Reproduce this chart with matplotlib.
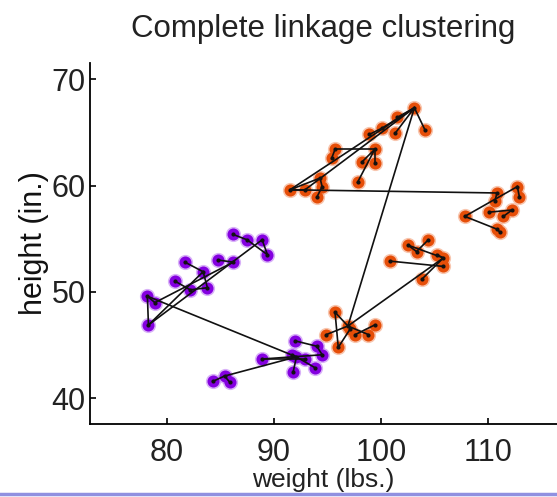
import matplotlib
matplotlib.use("Agg")
import matplotlib.pyplot as plt
from matplotlib.lines import Line2D

plt.rcParams['font.family'] = ['Liberation Sans', 'DejaVu Sans']

# purple cluster: weight (lbs.), height (in.)
purple_w = [86.2, 87.5, 88.9, 89.4, 84.8, 86.2, 81.7, 83.4, 80.8, 82.2, 83.8, 78.2, 78.9, 78.3,
            92.0, 94.0, 94.5, 91.7, 92.1, 93.8, 91.8, 88.9, 84.3, 85.4, 85.9, 92.9]
purple_h = [55.4, 54.9, 54.9, 53.5, 53.0, 52.8, 52.8, 51.9, 51.0, 50.2, 50.4, 49.6, 49.0, 46.9,
            45.4, 44.9, 44.1, 44.1, 43.9, 42.9, 42.5, 43.7, 41.6, 42.1, 41.5, 43.7]

# orange cluster
orange_w = [95.7, 94.9, 96.0, 97.1, 97.6, 98.8, 99.4, 96.9,
            100.8, 102.5, 104.4, 105.2, 105.8, 103.8, 103.3, 105.8,
            112.7, 112.9, 110.8, 110.6, 110.1, 112.2, 111.4, 107.8, 110.8, 111.1,
            103.1, 104.1, 101.5, 101.3, 100.1, 98.9, 95.7, 95.4, 99.4, 98.2, 99.4, 97.8,
            91.5, 92.9, 94.3, 94.5, 94.0]
orange_h = [48.1, 46.0, 44.8, 46.5, 46.0, 46.0, 46.9, 46.8,
            52.9, 54.4, 54.9, 53.5, 52.4, 51.2, 53.8, 53.2,
            59.9, 58.9, 59.3, 58.5, 57.5, 57.7, 57.1, 57.1, 55.9, 55.6,
            67.3, 65.2, 66.4, 64.9, 65.4, 64.8, 63.4, 62.6, 63.4, 62.2, 62.1, 60.3,
            59.6, 59.6, 60.7, 59.9, 58.9]

# linkage segments, (group, index) pairs
links = [
    (("p", 0), ("p", 1)), (("p", 1), ("p", 3)), (("p", 2), ("p", 3)), (("p", 4), ("p", 5)),
    (("p", 6), ("p", 7)), (("p", 7), ("p", 10)), (("p", 8), ("p", 9)), (("p", 9), ("p", 10)),
    (("p", 13), ("p", 2)), (("p", 13), ("p", 7)), (("p", 13), ("p", 11)), (("p", 11), ("p", 12)),
    (("p", 11), ("p", 18)), (("p", 12), ("p", 5)),
    (("p", 22), ("p", 23)), (("p", 23), ("p", 24)), (("p", 23), ("p", 18)), (("p", 21), ("p", 25)),
    (("p", 21), ("p", 16)), (("p", 14), ("p", 15)), (("p", 15), ("p", 16)), (("p", 17), ("p", 18)),
    (("p", 18), ("p", 19)), (("p", 20), ("p", 18)),
    (("o", 0), ("o", 7)), (("o", 1), ("o", 7)), (("o", 2), ("o", 0)), (("o", 2), ("o", 3)),
    (("o", 4), ("o", 6)), (("o", 5), ("o", 7)), (("o", 7), ("o", 15)),
    (("o", 8), ("o", 12)), (("o", 9), ("o", 14)), (("o", 10), ("o", 14)), (("o", 11), ("o", 15)),
    (("o", 13), ("o", 15)), (("o", 9), ("o", 15)),
    (("o", 23), ("o", 16)), (("o", 23), ("o", 24)), (("o", 24), ("o", 25)), (("o", 20), ("o", 21)),
    (("o", 18), ("o", 19)), (("o", 17), ("o", 16)), (("o", 22), ("o", 21)),
    (("o", 26), ("o", 27)), (("o", 26), ("o", 28)), (("o", 26), ("o", 29)), (("o", 26), ("o", 30)),
    (("o", 31), ("o", 30)), (("o", 32), ("o", 34)), (("o", 37), ("o", 34)), (("o", 36), ("o", 34)),
    (("o", 35), ("o", 34)), (("o", 38), ("o", 26)), (("o", 39), ("o", 26)), (("o", 38), ("o", 39)),
    (("o", 38), ("o", 40)), (("o", 40), ("o", 41)), (("o", 41), ("o", 42)), (("o", 33), ("o", 32)),
    (("o", 38), ("o", 18)), (("o", 26), ("o", 7)),
]

data = {"p": (purple_w, purple_h), "o": (orange_w, orange_h)}

fig = plt.figure(figsize=(5.57, 4.97), dpi=100)
ax = fig.add_axes([0.1616, 0.147, 0.8384, 0.726])

# soft halo + solid core to mimic the blurred markers
ax.scatter(purple_w, purple_h, s=120, color="#c080f4", alpha=0.6, linewidths=0, zorder=2)
ax.scatter(purple_w, purple_h, s=75, color="#8400e0", linewidths=0, zorder=2)
ax.scatter(orange_w, orange_h, s=120, color="#f4a07a", alpha=0.6, linewidths=0, zorder=2)
ax.scatter(orange_w, orange_h, s=75, color="#e64e08", linewidths=0, zorder=2)
ax.scatter(purple_w + orange_w, purple_h + orange_h, s=4, color="#111111", zorder=4)

for a, b in links:
    xa, ya = data[a[0]][0][a[1]], data[a[0]][1][a[1]]
    xb, yb = data[b[0]][0][b[1]], data[b[0]][1][b[1]]
    ax.plot([xa, xb], [ya, yb], color="#111111", lw=1.2, zorder=3)

ax.set_xlim(72.85, 116.4)
ax.set_ylim(37.6, 71.5)
ax.set_xticks([80, 90, 100, 110])
ax.set_yticks([40, 50, 60, 70])
ax.spines['top'].set_visible(False)
ax.spines['right'].set_visible(False)
ax.spines['left'].set_linewidth(1.3)
ax.spines['bottom'].set_linewidth(1.3)
ax.tick_params(axis='x', direction='in', length=4, width=1.2, labelsize=22, pad=10, labelcolor="#222222")
ax.tick_params(axis='y', direction='in', length=4, width=1.2, labelsize=22, pad=3, labelcolor="#222222")

ax.set_xlabel("weight (lbs.)", fontsize=19, labelpad=0, color="#222222")
ax.set_ylabel("height (in.)", fontsize=22, labelpad=2, color="#111111")
ax.set_title("Complete linkage clustering", fontsize=22.5, pad=19, color="#222222")

fig.add_artist(Line2D([0, 1], [0.006, 0.006], transform=fig.transFigure, color="#9090e0", lw=2.5))

fig.savefig("out.png", dpi=100)
